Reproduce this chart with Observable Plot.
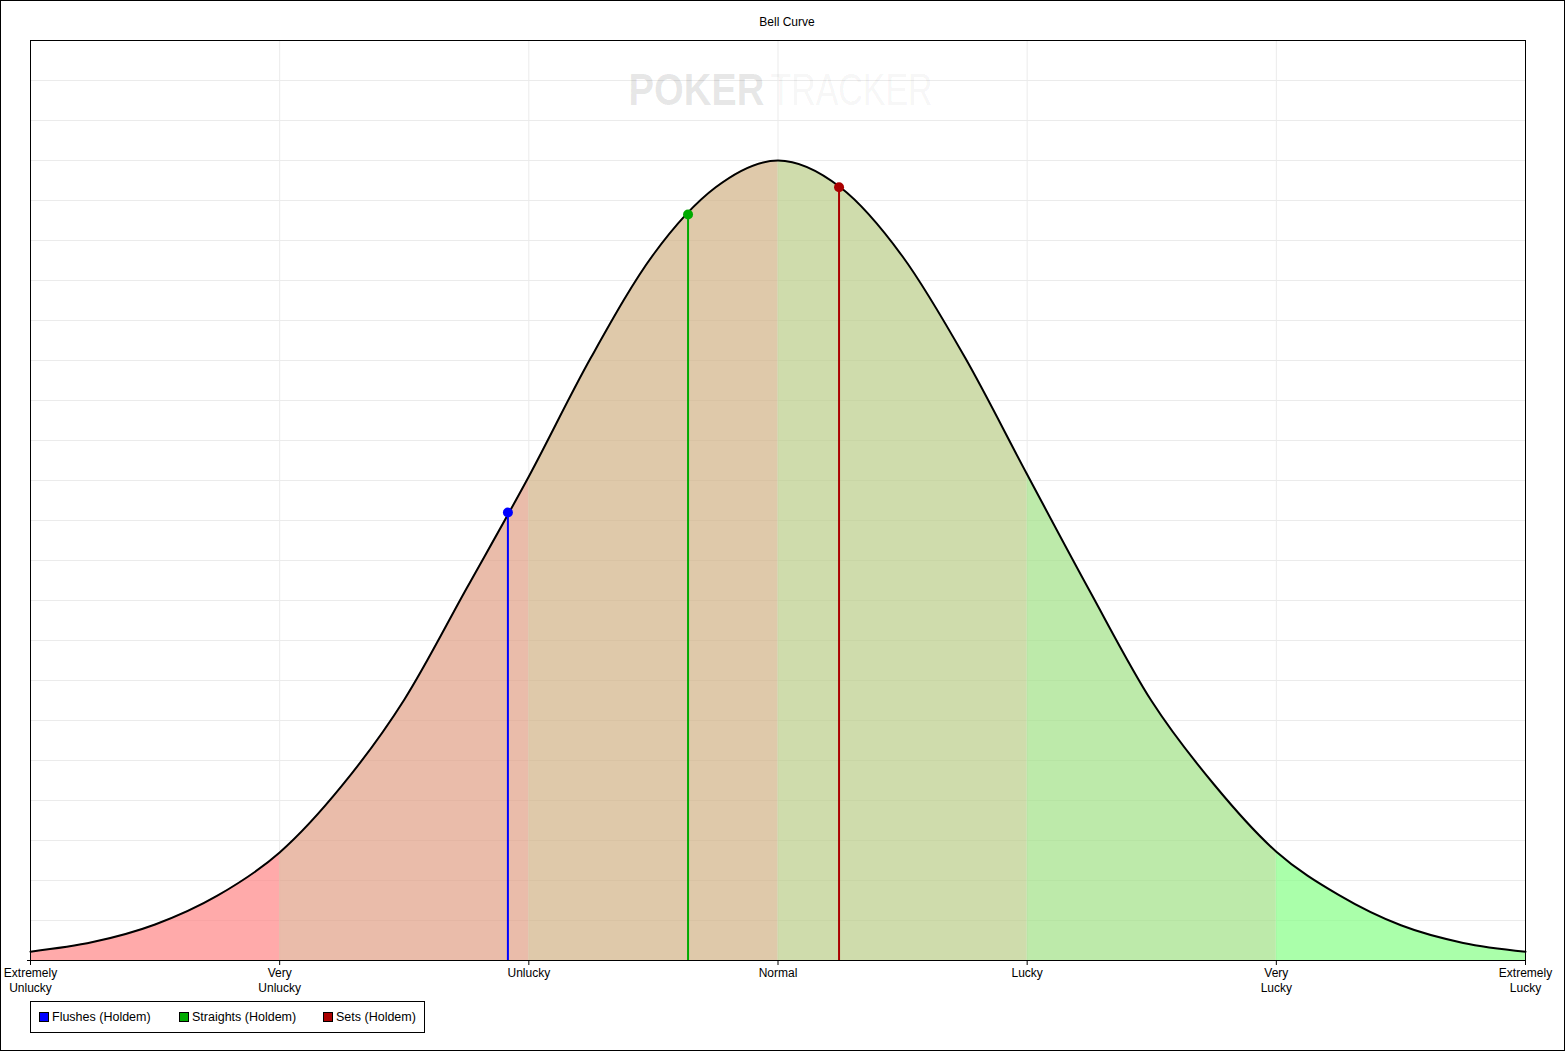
<!DOCTYPE html>
<html><head><meta charset="utf-8">
<script src="https://cdn.jsdelivr.net/npm/d3@7"></script>
<script src="https://cdn.jsdelivr.net/npm/@observablehq/plot@0.6"></script>
<style>
html,body{margin:0;padding:0;background:#fff;overflow:hidden}
#wrap{position:relative;width:1565px;height:1051px;font-family:"Liberation Sans",Arial,sans-serif;background:#fff}
#chart{position:absolute;left:0;top:0}
#border{position:absolute;left:0;top:0;width:1565px;height:1051px;box-sizing:border-box;border:1px solid #000;pointer-events:none}
#legend{position:absolute;left:30px;top:1001px;width:395px;height:32px;box-sizing:border-box;border:1px solid #000;font-size:12.5px;color:#000}
.item{position:absolute;top:0;height:30px;display:flex;align-items:center;white-space:nowrap}
.sw{width:8px;height:8px;border:1px solid #000;margin-right:3px}
</style></head>
<body>
<div id="wrap">
  <div id="chart"></div>
  <div id="legend"></div>
  <div id="border"></div>
</div>
<script>
// Bell curve: position in "sigma" units and height in grid units (1 unit = one grid row)
const curveSigma = [-3, -2.75, -2.5, -2.25, -2, -1.75, -1.5, -1.25, -1, -0.75, -0.5, -0.25, 0, 0.25, 0.5, 0.75, 1, 1.25, 1.5, 1.75, 2, 2.25, 2.5, 2.75, 3];
const curveHeight = [0.22, 0.46, 0.9, 1.62, 2.7, 4.37, 6.52, 9.3, 12.1, 15.08, 17.65, 19.33, 20.0, 19.33, 17.6, 15.08, 12.15, 9.25, 6.48, 4.4, 2.72, 1.64, 0.88, 0.44, 0.22];

const bandStarts = [-3, -2, -1, 0, 1, 2];
const bandColors = ["#ff8686", "#e19f86", "#d1b286", "#bacd89", "#a1e186", "#86ff86"];

const tickValues = [-3, -2, -1, 0, 1, 2, 3];
const tickLabels = ["Extremely\nUnlucky", "Very\nUnlucky", "Unlucky", "Normal", "Lucky", "Very\nLucky", "Extremely\nLucky"];
const gridX = [-2, -1, 0, 1, 2];
const gridY = [1, 2, 3, 4, 5, 6, 7, 8, 9, 10, 11, 12, 13, 14, 15, 16, 17, 18, 19, 20, 21, 22];

const seriesNames = ["Flushes (Holdem)", "Straights (Holdem)", "Sets (Holdem)"];
const seriesSigma = [-1.084, -0.361, 0.245];
const seriesHeight = [11.2, 18.65, 19.33];
const seriesColors = ["#0000ff", "#00aa00", "#aa0000"];

const curve = curveSigma.map((s, i) => ({s, h: curveHeight[i]}));
const series = seriesNames.map((name, i) => ({name, s: seriesSigma[i], h: seriesHeight[i], color: seriesColors[i]}));
const labelOf = new Map(tickValues.map((v, i) => [v, tickLabels[i]]));

// one full area per band; each is clipped to its sigma interval after rendering
const bandMarks = bandStarts.map((b, i) =>
  Plot.areaY(curve, {x: "s", y: "h", fill: bandColors[i], fillOpacity: 0.7, curve: "monotone-x"})
);

const chart = Plot.plot({
  width: 1565,
  height: 1000,
  marginLeft: 30,
  marginRight: 40,
  marginTop: 40,
  marginBottom: 40,
  x: {domain: [-3, 3]},
  y: {domain: [0, 23]},
  color: {type: "identity"},
  style: {fontFamily: "'Liberation Sans', Arial, sans-serif", fontSize: "12px", background: "white", color: "black", overflow: "visible"},
  marks: [
    Plot.ruleY(gridY, {stroke: "#ebebeb", strokeWidth: 1}),
    Plot.ruleX(gridX, {stroke: "#ebebeb", strokeWidth: 1}),
    Plot.text(["POKER"], {frameAnchor: "top", lineAnchor: "middle", dx: -13.5, dy: 50, textAnchor: "end", fontSize: 44, fontWeight: "bold", fill: "black", fillOpacity: 0.1}),
    Plot.text(["TRACKER"], {frameAnchor: "top", lineAnchor: "middle", dx: -7.5, dy: 50, textAnchor: "start", fontSize: 44, fill: "black", fillOpacity: 0.05}),
    ...bandMarks,
    Plot.line(curve, {x: "s", y: "h", stroke: "black", strokeWidth: 2, curve: "monotone-x"}),
    Plot.ruleX(series, {x: "s", y1: 0, y2: "h", stroke: "color", strokeWidth: 2}),
    Plot.dot(series, {x: "s", y: "h", fill: "color", r: 5}),
    Plot.frame({stroke: "black"}),
    Plot.axisX({ticks: tickValues, tickFormat: d => labelOf.get(d), label: null, tickSize: 5, tickPadding: 2, fontSize: 12, lineHeight: 1.17, fill: "black", stroke: "black"}),
    Plot.axisY({ticks: [0], tickFormat: () => "", label: null, tickSize: 3, stroke: "black"}),
    Plot.text(["Bell Curve"], {frameAnchor: "top", lineAnchor: "middle", dx: 9, dy: -18, fontSize: 12, fill: "black"})
  ]
});

// clip each band area to its sigma interval using the chart's x scale
const xs = chart.scale("x");
const ns = "http://www.w3.org/2000/svg";
const defs = document.createElementNS(ns, "defs");
chart.insertBefore(defs, chart.firstChild);
const areaGroups = chart.querySelectorAll('g[aria-label="area"]');
bandStarts.forEach((b, i) => {
  const cp = document.createElementNS(ns, "clipPath");
  cp.setAttribute("id", "band-clip-" + i);
  const r = document.createElementNS(ns, "rect");
  const x0 = xs.apply(b), x1 = xs.apply(b + 1);
  r.setAttribute("x", x0);
  r.setAttribute("y", 0);
  r.setAttribute("width", x1 - x0);
  r.setAttribute("height", 1000);
  cp.appendChild(r);
  defs.appendChild(cp);
  if (areaGroups[i]) areaGroups[i].setAttribute("clip-path", "url(#band-clip-" + i + ")");
});

chart.querySelectorAll("text").forEach(t => {
  if (t.textContent === "POKER") { t.setAttribute("textLength", "136"); t.setAttribute("lengthAdjust", "spacingAndGlyphs"); }
  if (t.textContent === "TRACKER") { t.setAttribute("textLength", "162"); t.setAttribute("lengthAdjust", "spacingAndGlyphs"); }
});
document.getElementById("chart").appendChild(chart);

const legendOffsets = [8, 148, 292];
const legend = document.getElementById("legend");
series.forEach((d, i) => {
  const item = document.createElement("div");
  item.className = "item";
  item.style.left = legendOffsets[i] + "px";
  const sw = document.createElement("div");
  sw.className = "sw";
  sw.style.background = d.color;
  const label = document.createElement("span");
  label.textContent = d.name;
  item.appendChild(sw);
  item.appendChild(label);
  legend.appendChild(item);
});
</script>
</body></html>
